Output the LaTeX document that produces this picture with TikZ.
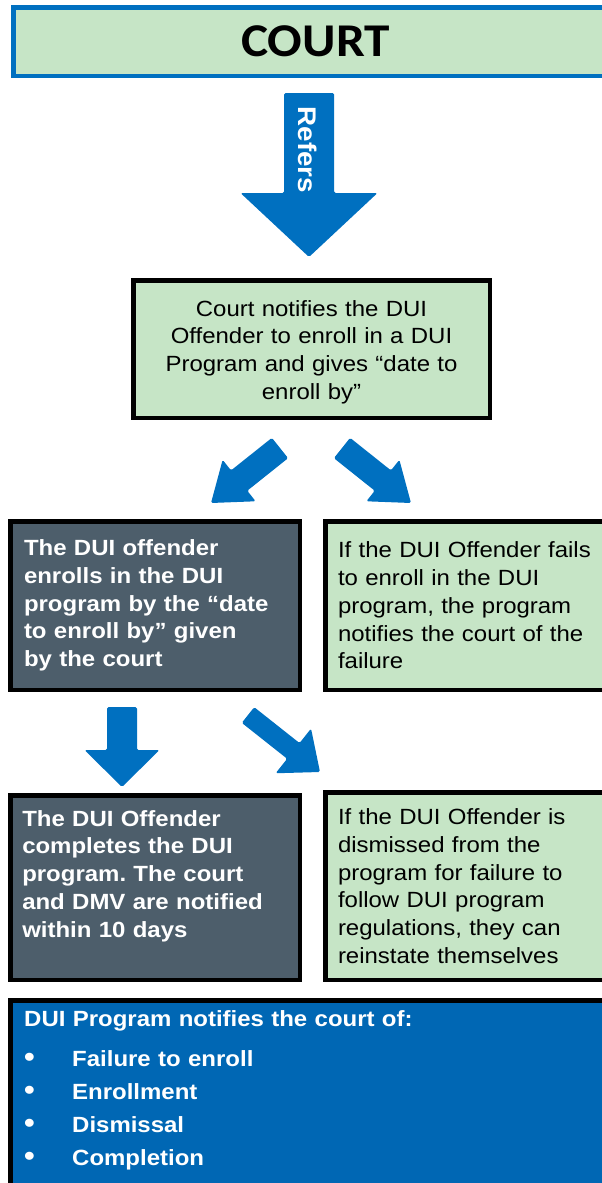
\documentclass[tikz,border=0pt]{standalone}
\usepackage{fontspec}
\setmainfont{Liberation Sans}[FakeStretch=1.09]
\newfontfamily\courtfont{Carlito}[FakeStretch=1.09]
\usetikzlibrary{calc}

\definecolor{courtgreen}{HTML}{C6E5C6}
\definecolor{slate}{HTML}{4D5E6B}
\definecolor{arrowblue}{HTML}{0070C0}
\definecolor{notifyblue}{HTML}{0067B4}

% block arrow: tail, tip, half shaft, half head, head length
\newcommand{\blockarrow}[5]{%
  \coordinate (ahb) at ($(#2)!#5!(#1)$);
  \fill[arrowblue, rounded corners=1.5pt]
    ($(#1)!#3!90:(#2)$) -- ($(ahb)!#3!90:(#2)$) -- ($(ahb)!#4!90:(#2)$)
    -- (#2) -- ($(ahb)!#4!-90:(#2)$) -- ($(ahb)!#3!-90:(#2)$)
    -- ($(#1)!#3!-90:(#2)$) -- cycle;}
% list bullet
\newcommand{\notebullet}{\makebox[48pt][l]{{\fontsize{28}{28}\selectfont\textbullet}}}

\frenchspacing
\begin{document}
\begin{tikzpicture}[x=1pt, y=-1pt,
    box/.style={draw=black, line width=4.5pt, inner ysep=0pt,
      font=\fontsize{22}{27.7}\selectfont},
    greenbox/.style={box, fill=courtgreen, text=black},
    darkbox/.style={box, fill=slate, text=white,
      font=\fontsize{22}{27.7}\selectfont\bfseries}]
  \useasboundingbox (0,0) rectangle (602,1183);
  \clip (0,0) rectangle (602,1183);

  \node[draw=arrowblue, line width=4.5pt, fill=courtgreen,
    minimum width=604.5pt, minimum height=68.5pt,
    font=\courtfont\bfseries\fontsize{47}{47}\selectfont] (court) at (315.5,41.5) {COURT};

  % arrows
  \coordinate (refersTail) at (309,93);
  \coordinate (refersTip) at (309,257);
  \coordinate (leftTail) at (280,448);
  \coordinate (leftTip) at (211,503);
  \coordinate (rightTail) at (342,448);
  \coordinate (rightTip) at (411,503);
  \coordinate (downTail) at (122,707);
  \coordinate (downTip) at (122,787);
  \coordinate (dismissTail) at (248,715);
  \coordinate (dismissTip) at (320,772);
  \blockarrow{refersTail}{refersTip}{25pt}{68.5pt}{64pt}
  \blockarrow{leftTail}{leftTip}{13pt}{26.5pt}{36pt}
  \blockarrow{rightTail}{rightTip}{13pt}{26.5pt}{36pt}
  \blockarrow{downTail}{downTip}{15pt}{37.5pt}{37pt}
  \blockarrow{dismissTail}{dismissTip}{10pt}{28.5pt}{34pt}
  \node[text=white, font=\bfseries\fontsize{25.5}{25.5}\selectfont,
    rotate=-90, inner sep=0pt] (refers) at (307.5,150) {Refers};

  \node[greenbox, minimum width=356.5pt, minimum height=137.5pt,
    text width=330pt, align=center] (notice) at (311.5,349)
    {\rule{0pt}{22pt}Court notifies the DUI\\ Offender to enroll in a DUI\\ Program and gives “date to\\ enroll by”};

  \node[darkbox, minimum width=289.5pt, minimum height=168.5pt,
    inner xsep=13.75pt, text width=262pt, align=left] (enrolls) at (155,605.5)
    {The DUI offender\\ enrolls in the DUI\\ program by the “date\\ to enroll by” given\\ by the court};
  \node[greenbox, minimum width=297.5pt, minimum height=168.5pt,
    inner xsep=12.75pt, text width=272pt, align=left] (fails) at (474,605.5)
    {If the DUI Offender fails\\ to enroll in the DUI\\ program, the program\\ notifies the court of the\\ failure};

  \node[darkbox, minimum width=289.5pt, minimum height=184.5pt,
    inner xsep=12pt, text width=265.5pt, align=left] (completes) at (155,887.5)
    {The DUI Offender\\ completes the DUI\\ program. The court\\ and DMV are notified\\ within 10 days\\ \mbox{}};
  \node[greenbox, minimum width=297.5pt, minimum height=187.5pt,
    inner xsep=12.75pt, text width=272pt, align=left] (dismissed) at (474,886)
    {If the DUI Offender is\\ dismissed from the\\ program for failure to\\ follow DUI program\\ regulations, they can\\ reinstate themselves};

  \node[box, fill=notifyblue, minimum width=612.5pt, minimum height=197.5pt] (notifies) at (316.5,1099) {};
  \node[anchor=north west, inner sep=0pt, text=white, text width=500pt, align=left,
    font=\fontsize{22}{33}\selectfont\bfseries] (notifylist) at (24,1010)
    {DUI Program notifies the court of:\\[7pt]
     \notebullet Failure to enroll\\
     \notebullet Enrollment\\
     \notebullet Dismissal\\
     \notebullet Completion};
\end{tikzpicture}
\end{document}
